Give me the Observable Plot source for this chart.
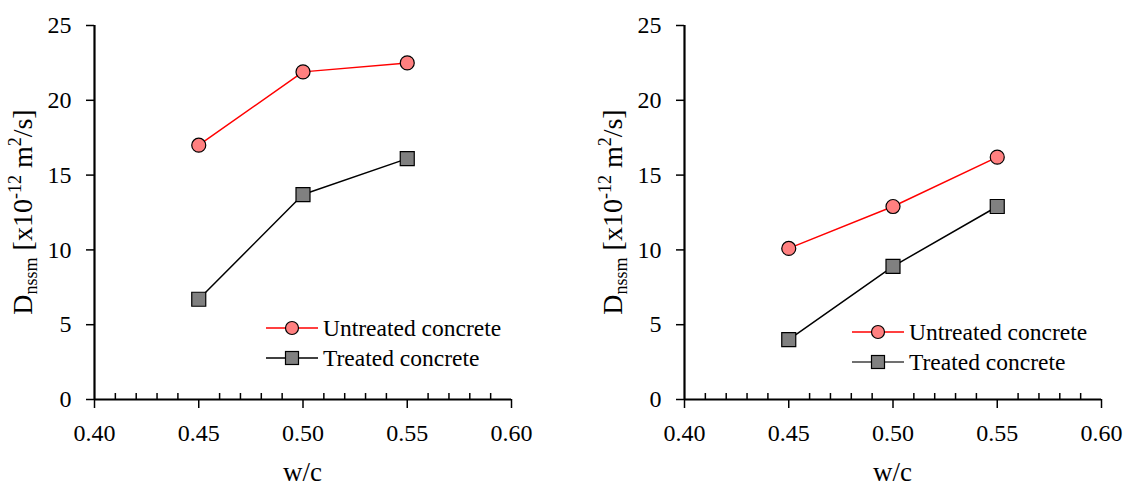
<!DOCTYPE html>
<html><head><meta charset="utf-8">
<script src="https://cdn.jsdelivr.net/npm/d3@7"></script>
<script src="https://cdn.jsdelivr.net/npm/@observablehq/plot@0.6"></script>
<style>
html,body{margin:0;padding:0;background:#fff;}
#wrap{display:flex;width:1124px;height:486px;overflow:hidden;}
#wrap svg{flex:none;}
</style></head><body><div id="wrap"></div>
<script>
const wc = [0.45, 0.50, 0.55];
const untreatedA = [17.0, 21.9, 22.5];
const treatedA = [6.7, 13.7, 16.1];
const untreatedB = [10.1, 12.9, 16.2];
const treatedB = [4.0, 8.9, 12.9];
const xTicks = [0.40, 0.45, 0.50, 0.55, 0.60];
const xMinor = [0.41, 0.42, 0.43, 0.44, 0.46, 0.47, 0.48, 0.49, 0.51, 0.52, 0.53, 0.54, 0.56, 0.57, 0.58, 0.59];
const yTicks = [0, 5, 10, 15, 20, 25];
const seriesNames = ["Untreated concrete", "Treated concrete"];
const xTitle = "w/c";

const FONT = "'Liberation Serif', 'DejaVu Serif', serif";
const RED = "#ff0000", PINK = "#ff8080", GREY = "#808080";

function panel(un, tr, m, leg, legStroke2) {
  const rowsU = wc.map((x, i) => ({x, y: un[i]}));
  const rowsT = wc.map((x, i) => ({x, y: tr[i]}));
  const W = 562, H = 486, MT = 25, MB = 87;
  const p = Plot.plot({
    width: W, height: H,
    marginLeft: m.left, marginRight: m.right, marginTop: MT, marginBottom: MB,
    style: {fontFamily: FONT, fontSize: "24px", color: "#000", background: "#fff", overflow: "visible"},
    x: {domain: [0.40, 0.60]},
    y: {domain: [0, 25]},
    marks: [
      Plot.axisX(xMinor, {tickSize: 6, dy: -6, tickFormat: () => "", label: null, strokeWidth: 1.5}),
      Plot.axisX(xTicks, {tickSize: 9, tickPadding: 15, tickFormat: d3.format(".2f"), label: null, strokeWidth: 1.5}),
      Plot.axisY(yTicks, {tickSize: 8, tickPadding: 15, label: null, strokeWidth: 1.5}),
      Plot.ruleY([0], {stroke: "#000", strokeWidth: 2.2}),
      Plot.ruleX([0.40], {stroke: "#000", strokeWidth: 2.2}),
      Plot.line(rowsU, {x: "x", y: "y", stroke: RED, strokeWidth: 1.5}),
      Plot.line(rowsT, {x: "x", y: "y", stroke: "#000", strokeWidth: 1.5}),
      Plot.dot(rowsU, {x: "x", y: "y", r: 7, fill: PINK, stroke: "#000", strokeWidth: 1.2}),
      Plot.dot(rowsT, {x: "x", y: "y", r: 7.9, symbol: "square", fill: GREY, stroke: "#000", strokeWidth: 1.2})
    ]
  });
  const svg = d3.select(p);
  const x0 = m.left, x1 = W - m.right, yMid = (MT + (H - MB)) / 2;
  // x title
  svg.append("text").attr("x", (x0 + x1) / 2).attr("y", 481)
    .attr("text-anchor", "middle").attr("font-family", FONT).attr("font-size", 27).attr("fill", "#000").text(xTitle);
  // y title
  const t = svg.append("text")
    .attr("transform", `translate(${x0 - 62},${yMid}) rotate(-90)`)
    .attr("text-anchor", "middle").attr("font-family", FONT).attr("font-size", 28).attr("fill", "#000");
  t.append("tspan").text("D");
  t.append("tspan").attr("font-size", 18).attr("dy", 5).text("nssm");
  t.append("tspan").attr("dy", -5).text(" [x10");
  t.append("tspan").attr("font-size", 18).attr("dy", -11).text("-12");
  t.append("tspan").attr("dy", 11).text(" m");
  t.append("tspan").attr("font-size", 18).attr("dy", -11).text("2");
  t.append("tspan").attr("dy", 11).text("/s]");
  // legend
  const rows = [
    {name: seriesNames[0], stroke: RED, fill: PINK, sym: "circle"},
    {name: seriesNames[1], stroke: legStroke2, fill: GREY, sym: "square"}
  ];
  rows.forEach((r, i) => {
    const y = leg.y + i * 30;
    const g = svg.append("g");
    g.append("line").attr("x1", leg.x).attr("x2", leg.x + 52).attr("y1", y).attr("y2", y)
      .attr("stroke", r.stroke).attr("stroke-width", 1.5);
    if (r.sym === "circle") {
      g.append("circle").attr("cx", leg.x + 26).attr("cy", y).attr("r", 6.5)
        .attr("fill", r.fill).attr("stroke", "#000").attr("stroke-width", 1.2);
    } else {
      g.append("rect").attr("x", leg.x + 26 - 6.5).attr("y", y - 6.5).attr("width", 13).attr("height", 13)
        .attr("fill", r.fill).attr("stroke", "#000").attr("stroke-width", 1.2);
    }
    g.append("text").attr("x", leg.x + 57).attr("y", y).attr("dy", "0.33em").attr("text-anchor", "start")
      .attr("font-family", FONT).attr("font-size", 23.5).attr("fill", "#000").text(r.name);
  });
  return p;
}

const wrap = document.getElementById("wrap");
wrap.appendChild(panel(untreatedA, treatedA, {left: 94, right: 51}, {x: 266, y: 328}, "#000"));
wrap.appendChild(panel(untreatedB, treatedB, {left: 122, right: 23}, {x: 290, y: 332}, "#404040"));
</script>
</body></html>
